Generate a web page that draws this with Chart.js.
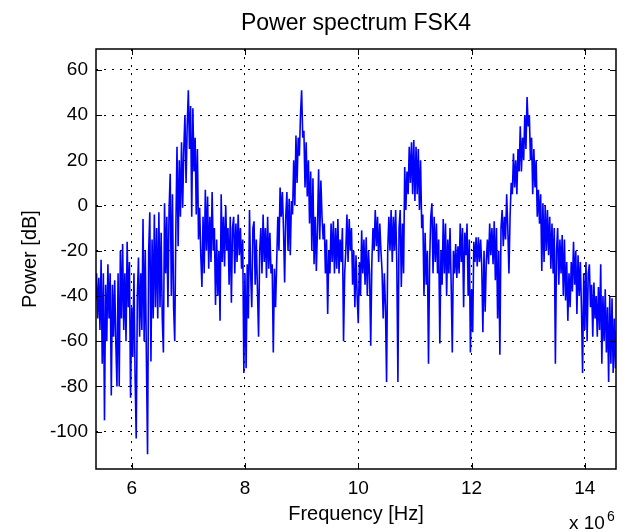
<!DOCTYPE html>
<html>
<head>
<meta charset="utf-8">
<title>Power spectrum FSK4</title>
<script src="https://cdn.jsdelivr.net/npm/chart.js@4.4.0/dist/chart.umd.min.js"></script>
<style>
  html, body { margin: 0; padding: 0; background: #fff; }
</style>
</head>
<body>
<canvas id="spectrum" width="626" height="532"></canvas>
<script>
// frequency grid, in MHz (axis shows Hz x 10^6)
const freqStart = 5.36;
const freqStep = 0.02;

// power in dB, one array per MHz band
const band5 = [-42, -30, -50, -32, -55, -24, -70, -30, -95, -35, -60, -26, -50, -30, -84, -35,
  -58, -33, -61, -80, -30, -80, -20, -50, -17, -55, -30, -60, -16, -45, -25, -85];
const band6 = [-45, -67, -30, -75, -103, -40, -23, -58, -30, -55, -6, -60, -20, -68, -110, -20, -3, -69, -15, -50,
  -4, -45, -10, -50, -3, -45, -12, -50, -65, 1, -30, -5, -45, -2, 14, -40, 5, -45, -60, -10,
  26, -18, 20, -5, 28, -1, 25, 40, 10, 35];
const band7 = [51, 25, 44, -5, 43, 15, 30, -4, 25, -15, -1, -22, -36, -5, -30, 7, -20, 4, -28, -5,
  -25, 6, -20, -10, -44, -15, -40, -20, -51, 5, -25, -5, -27, 0, -20, -10, -35, -5, -43, -10,
  -5, -30, -8, -25, -4, -22, -10, -28, -15, -74];
const band8 = [-30, -72, -26, -50, -2, -30, -45, -10, -7, -35, -15, -37, -58, -20, -10, -30, -4, -25, -10, -32,
  -5, -28, -12, -30, -26, -65, -28, -45, -25, -5, -20, 8, -5, 6, -10, -34, -5, 6, -20, 3,
  -22, 2, -4, 20, 0, 31, 10, 30, 22, 40];
const band9 = [51, 30, 33, 8, 28, 4, 20, -8, 15, -20, 12, -26, -5, -29, -10, 16, -15, 11, -5, -15,
  -8, -30, -15, -48, -20, -30, -8, -25, -7, -30, -10, -28, -6, -30, -15, -25, -10, -60, -30, -20,
  -4, -25, -6, -20, -10, -35, -20, -45, -22, -40];
const band10 = [-52, -25, -40, -11, -30, -15, -35, -14, -40, -20, -30, -62, -25, -10, -20, -2, -18, -5, -25, -8,
  -20, -29, -50, -30, -45, -78, -20, -5, -20, -2, -25, -5, -20, -2, -25, -78, -10, -2, -36, -8,
  -30, 17, -2, 15, 5, 26, 10, 28, 5, 29];
const band11 = [2, 26, 5, 25, -2, 20, -10, -4, -40, -12, -35, -20, -70, -25, -5, 1, -30, -5, -25, -8,
  -30, -15, -61, -20, -35, -6, -30, -8, -40, -15, -30, -10, -35, -65, -20, -30, -17, -32, -18, -30,
  -8, -25, -10, -45, -12, -22, -8, -40, -15, -65];
const band12 = [-37, -56, -16, -25, -14, -27, -14, -25, -15, -27, -56, -20, -47, -25, -15, -26, -8, -22, -10, -26,
  -7, -33, -10, -50, -20, -66, -10, -2, -18, -5, -15, 5, -10, -30, -5, 10, 5, 23, 8, 20,
  5, 25, 15, 35, 15, 30, 20, 40, 25, 48];
const band13 = [35, 40, 20, 30, 5, 25, 8, 20, -5, 7, -8, 5, -29, 1, -25, 0, -20, -2, -22, -5,
  -28, -8, -30, -10, -70, -20, -10, -35, -15, -30, -13, -40, -15, -42, -25, -51, -30, -45, -25, -38,
  -16, -35, -20, -48, -22, -40, -25, -45, -74, -30];
const band14 = [-55, -25, -60, -30, -26, -45, -35, -58, -34, -50, -40, -58, -36, -55, -26, -70, -40, -60, -37, -65,
  -45, -78, -40, -70, -41, -74, -50, -72, -55];

const xTicks = [6, 8, 10, 12, 14];
const yTicks = [-100, -80, -60, -40, -20, 0, 20, 40, 60];
const xRange = [5.37, 14.55];
const yRange = [-116.5, 69.2];

const powerDb = [].concat(band5, band6, band7, band8, band9, band10, band11, band12, band13, band14);
const points = powerDb.map((p, i) => ({ x: freqStart + i * freqStep, y: p }));

const FONT = '"Liberation Sans", Arial, Helvetica, sans-serif';
const TITLE = 'Power spectrum FSK4';

// title over the axes, box round the axes, inward ticks on all four sides, x 10^6 note
const framePlugin = {
  id: 'frame',
  afterDraw(chart) {
    const { ctx, chartArea: a, scales: { x, y } } = chart;
    const len = 6;
    ctx.save();
    ctx.strokeStyle = '#000';
    ctx.lineWidth = 1;
    ctx.beginPath();
    xTicks.forEach(v => {
      const px = Math.round(x.getPixelForValue(v)) + 0.5;
      ctx.moveTo(px, a.bottom); ctx.lineTo(px, a.bottom - len);
      ctx.moveTo(px, a.top); ctx.lineTo(px, a.top + len);
    });
    yTicks.forEach(v => {
      const py = Math.round(y.getPixelForValue(v)) + 0.5;
      ctx.moveTo(a.left, py); ctx.lineTo(a.left + len, py);
      ctx.moveTo(a.right, py); ctx.lineTo(a.right - len, py);
    });
    ctx.stroke();
    ctx.lineWidth = 1.5;
    ctx.strokeRect(a.left, a.top, a.right - a.left, a.bottom - a.top);

    ctx.fillStyle = '#000';
    ctx.textBaseline = 'alphabetic';
    ctx.textAlign = 'center';
    ctx.font = '23px ' + FONT;
    ctx.fillText(TITLE, (a.left + a.right) / 2, 30);

    ctx.textAlign = 'left';
    ctx.font = '19px ' + FONT;
    ctx.fillText('x 10', 569, 529);
    ctx.font = '14px ' + FONT;
    ctx.fillText('6', 607, 521);
    ctx.restore();
  }
};

new Chart(document.getElementById('spectrum'), {
  type: 'line',
  data: {
    datasets: [{
      label: 'Power',
      data: points,
      borderColor: '#0000ff',
      borderWidth: 1.6,
      pointRadius: 0,
      tension: 0,
      fill: false
    }]
  },
  options: {
    responsive: false,
    animation: false,
    layout: { padding: { left: 0, top: 49, right: 10, bottom: 0 } },
    plugins: {
      legend: { display: false },
      tooltip: { enabled: false },
      title: { display: false }
    },
    scales: {
      x: {
        type: 'linear',
        min: xRange[0],
        max: xRange[1],
        afterBuildTicks: s => { s.ticks = xTicks.map(v => ({ value: v })); },
        afterFit: s => { s.height = 63; },
        ticks: {
          color: '#000',
          padding: 8,
          maxRotation: 0,
          font: { family: FONT, size: 19 },
          callback: v => String(v)
        },
        grid: { color: '#000', lineWidth: 1, drawTicks: false },
        border: { display: false, dash: [2, 6] },
        title: {
          display: true,
          text: 'Frequency [Hz]',
          color: '#000',
          font: { family: FONT, size: 20 },
          padding: { top: 0, bottom: 6 }
        }
      },
      y: {
        type: 'linear',
        min: yRange[0],
        max: yRange[1],
        afterBuildTicks: s => { s.ticks = yTicks.map(v => ({ value: v })); },
        afterFit: s => { s.width = 96; },
        ticks: {
          color: '#000',
          padding: 8,
          font: { family: FONT, size: 19 },
          callback: v => String(v)
        },
        grid: { color: '#000', lineWidth: 1, drawTicks: false },
        border: { display: false, dash: [2, 6] },
        title: {
          display: true,
          text: 'Power [dB]',
          color: '#000',
          font: { family: FONT, size: 20 },
          padding: { top: 18, bottom: 0 }
        }
      }
    }
  },
  plugins: [framePlugin]
});
</script>
</body>
</html>
